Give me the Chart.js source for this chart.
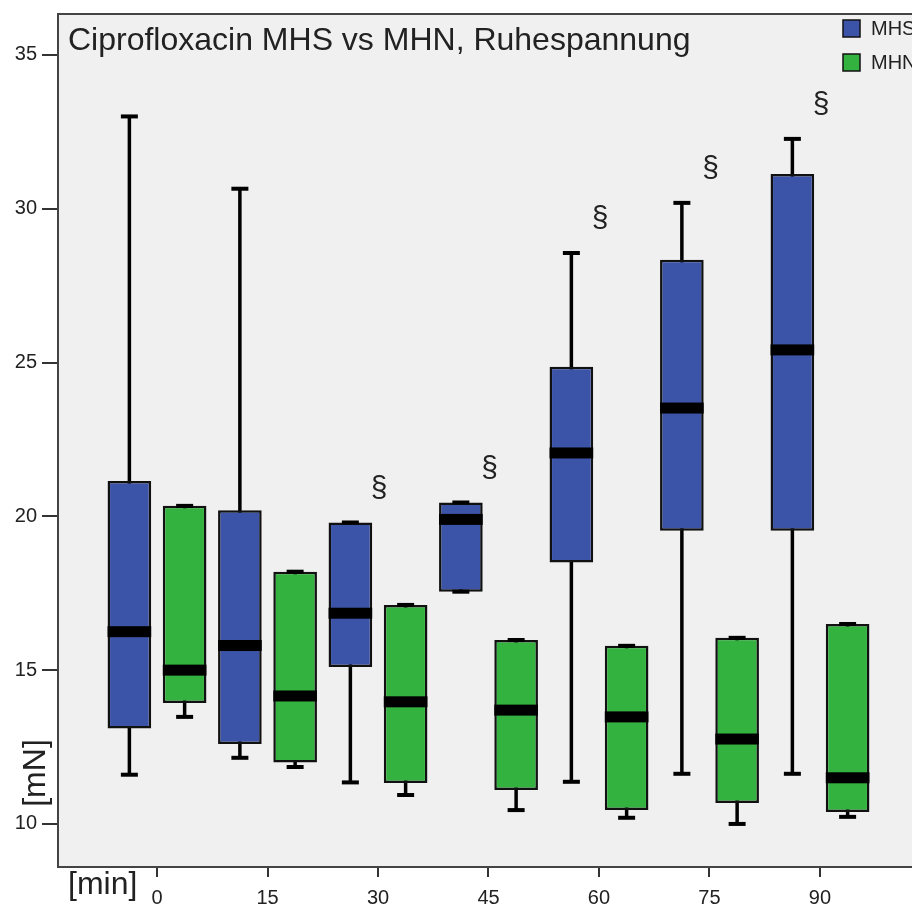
<!DOCTYPE html>
<html>
<head>
<meta charset="utf-8">
<script src="https://cdn.jsdelivr.net/npm/chart.js@4"></script>
<style>
  html, body { margin: 0; padding: 0; background: #fff; overflow: hidden; }
  #wrap { width: 912px; height: 908px; position: relative; }
</style>
</head>
<body>
<div id="wrap"><canvas id="boxes"></canvas></div>
<script>
const xValues = [0, 15, 30, 45, 60, 75, 90];
const xLabels = ['0', '15', '30', '45', '60', '75', '90'];
const yTicks = [10, 15, 20, 25, 30, 35];

// MHS (blue)
const mhsMin    = [11.6, 12.15, 11.35, 17.55, 11.37, 11.63, 11.63];
const mhsQ1     = [13.1, 12.6, 15.1, 17.55, 18.5, 19.53, 19.53];
const mhsMedian = [16.25, 15.8, 16.85, 19.9, 22.06, 23.52, 25.41];
const mhsQ3     = [21.15, 20.2, 19.8, 20.45, 24.86, 28.34, 31.13];
const mhsMax    = [33.0, 30.65, 19.8, 20.45, 28.56, 30.19, 32.27];

// MHN (green)
const mhnMin    = [13.48, 11.85, 10.94, 10.45, 10.2, 10.0, 10.23];
const mhnQ1     = [13.93, 12.0, 11.33, 11.1, 10.45, 10.68, 10.39];
const mhnMedian = [15.0, 14.16, 13.97, 13.7, 13.48, 12.76, 11.5];
const mhnQ3     = [20.34, 18.2, 17.12, 15.98, 15.79, 16.05, 16.5];
const mhnMax    = [20.34, 18.2, 17.12, 15.98, 15.79, 16.05, 16.5];

const sigMarks = ['', '', '§', '§', '§', '§', '§'];

const FONT = "'Liberation Sans', Arial, sans-serif";

function boxData(lo, hi) {
    return xValues.map((x, i) => ({ x: x, y: [lo[i], hi[i]] }));
}

const boxPlugin = {
    id: 'boxParts',
    beforeDraw(chart) {
        const a = chart.chartArea;
        const ctx = chart.ctx;
        ctx.save();
        ctx.fillStyle = '#f0f0f0';
        ctx.fillRect(a.left, a.top, a.right - a.left, a.bottom - a.top);
        ctx.restore();
    },
    beforeDatasetsDraw(chart) {
        const ctx = chart.ctx;
        const y = chart.scales.y;
        ctx.save();
        chart.data.datasets.forEach((ds, d) => {
            chart.getDatasetMeta(d).data.forEach((el, i) => {
                ctx.strokeStyle = '#000';
                ctx.lineWidth = 3.5;
                ctx.beginPath();
                ctx.moveTo(el.x, y.getPixelForValue(ds.stats.min[i]));
                ctx.lineTo(el.x, y.getPixelForValue(ds.stats.max[i]));
                ctx.stroke();
            });
        });
        ctx.restore();
    },
    afterDatasetsDraw(chart) {
        const ctx = chart.ctx;
        const y = chart.scales.y;
        ctx.save();
        chart.data.datasets.forEach((ds, d) => {
            chart.getDatasetMeta(d).data.forEach((el, i) => {
                // caps
                ctx.strokeStyle = '#000';
                ctx.lineWidth = 4;
                [ds.stats.min[i], ds.stats.max[i]].forEach(v => {
                    const py = y.getPixelForValue(v);
                    ctx.beginPath();
                    ctx.moveTo(el.x - 8.5, py);
                    ctx.lineTo(el.x + 8.5, py);
                    ctx.stroke();
                });
                // median
                const my = y.getPixelForValue(ds.stats.med[i]);
                ctx.fillStyle = '#000';
                ctx.fillRect(el.x - el.width / 2, my - 5.5, el.width, 11);
            });
        });
        ctx.restore();
    },
    afterDraw(chart) {
        const ctx = chart.ctx;
        const a = chart.chartArea;
        const x = chart.scales.x;
        const y = chart.scales.y;
        ctx.save();

        // top frame line
        ctx.strokeStyle = '#444';
        ctx.lineWidth = 2;
        ctx.beginPath();
        ctx.moveTo(a.left, a.top);
        ctx.lineTo(a.right, a.top);
        ctx.stroke();

        ctx.fillStyle = '#222';
        ctx.font = '32px ' + FONT;
        ctx.textAlign = 'left';
        ctx.textBaseline = 'alphabetic';
        ctx.fillText('Ciprofloxacin MHS vs MHN, Ruhespannung', 68, 50);

        // significance marks
        ctx.font = '30px ' + FONT;
        ctx.textAlign = 'center';
        ctx.textBaseline = 'middle';
        sigMarks.forEach((m, i) => {
            if (!m) return;
            ctx.fillText(m, x.getPixelForValue(xValues[i]) + 1, y.getPixelForValue(mhsMax[i]) - 34);
        });

        // axis captions
        ctx.font = '32px ' + FONT;
        ctx.textAlign = 'left';
        ctx.textBaseline = 'middle';
        ctx.fillText('[min]', 68, 885);
        ctx.save();
        ctx.translate(36, 773);
        ctx.rotate(-Math.PI / 2);
        ctx.textAlign = 'center';
        ctx.fillText('[mN]', 0, 0);
        ctx.restore();

        // legend
        ctx.font = '20px ' + FONT;
        ctx.textAlign = 'left';
        ctx.textBaseline = 'middle';
        chart.data.datasets.forEach((ds, d) => {
            const top = 20 + d * 34;
            ctx.fillStyle = ds.backgroundColor;
            ctx.fillRect(843, top, 17, 17);
            ctx.strokeStyle = '#111';
            ctx.lineWidth = 1.5;
            ctx.strokeRect(843, top, 17, 17);
            ctx.fillStyle = '#222';
            ctx.fillText(ds.label, 871, top + 9);
        });

        ctx.restore();
    }
};

const ctx = document.getElementById('boxes').getContext('2d');

new Chart(ctx, {
    type: 'bar',
    data: {
        datasets: [
            {
                label: 'MHS',
                data: boxData(mhsQ1, mhsQ3),
                backgroundColor: '#3c54a8',
                borderColor: '#111',
                borderWidth: 2.5,
                borderSkipped: false,
                stats: { min: mhsMin, med: mhsMedian, max: mhsMax }
            },
            {
                label: 'MHN',
                data: boxData(mhnQ1, mhnQ3),
                backgroundColor: '#34b240',
                borderColor: '#111',
                borderWidth: 2.5,
                borderSkipped: false,
                stats: { min: mhnMin, med: mhnMedian, max: mhnMax }
            }
        ]
    },
    options: {
        responsive: true,
        maintainAspectRatio: false,
        animation: false,
        categoryPercentage: 1.0,
        barPercentage: 0.79,
        layout: { padding: { top: 14, right: 0, left: 0, bottom: 0 } },
        plugins: {
            legend: { display: false },
            tooltip: { enabled: false }
        },
        scales: {
            x: {
                type: 'linear',
                min: -13.44,
                max: 102.49,
                offset: false,
                afterBuildTicks: scale => { scale.ticks = xValues.map(v => ({ value: v })); },
                afterFit: scale => {
                    scale.height = 41;
                    scale.paddingLeft = 0;
                    scale.paddingRight = 0;
                },
                grid: { offset: false, drawOnChartArea: false, tickLength: 10, color: '#333', lineWidth: 2 },
                border: { display: true, color: '#444', width: 2 },
                ticks: {
                    padding: 9,
                    color: '#222',
                    font: { family: FONT, size: 20 },
                    callback: (v) => xLabels[xValues.indexOf(v)]
                }
            },
            y: {
                min: 8.6,
                max: 36.33,
                afterBuildTicks: scale => { scale.ticks = yTicks.map(v => ({ value: v })); },
                afterFit: scale => {
                    scale.width = 58;
                    scale.paddingTop = 0;
                    scale.paddingBottom = 0;
                },
                grid: { drawOnChartArea: false, tickLength: 16, color: '#333', lineWidth: 2 },
                border: { display: true, color: '#444', width: 2 },
                ticks: {
                    padding: 5,
                    color: '#222',
                    font: { family: FONT, size: 20 }
                }
            }
        }
    },
    plugins: [boxPlugin]
});
</script>
</body>
</html>
